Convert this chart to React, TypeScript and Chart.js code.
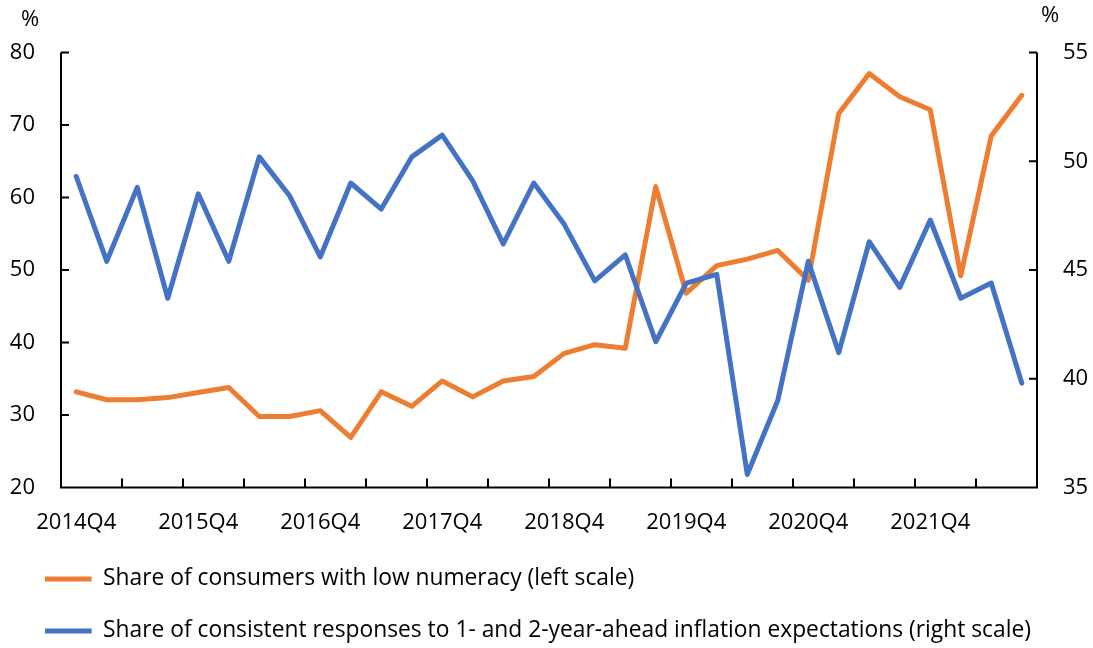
import React, { useEffect, useRef } from "react";
import { Chart, registerables } from "chart.js";

Chart.register(...registerables);

const quarters = [
  "2014Q4",
  "2015Q1", "2015Q2", "2015Q3", "2015Q4",
  "2016Q1", "2016Q2", "2016Q3", "2016Q4",
  "2017Q1", "2017Q2", "2017Q3", "2017Q4",
  "2018Q1", "2018Q2", "2018Q3", "2018Q4",
  "2019Q1", "2019Q2", "2019Q3", "2019Q4",
  "2020Q1", "2020Q2", "2020Q3", "2020Q4",
  "2021Q1", "2021Q2", "2021Q3", "2021Q4",
  "2022Q1", "2022Q2", "2022Q3",
];

const lowNumeracy = [
  33.2, 32.1, 32.1, 32.4, 33.1, 33.8, 29.8, 29.8, 30.6, 26.9, 33.2, 31.2,
  34.7, 32.5, 34.7, 35.3, 38.5, 39.7, 39.2, 61.5, 46.8, 50.6, 51.5, 52.7,
  48.6, 71.6, 77.1, 73.9, 72.1, 49.2, 68.5, 74.1,
];

const consistentResponses = [
  49.3, 45.4, 48.8, 43.7, 48.5, 45.4, 50.2, 48.4, 45.6, 49.0, 47.8, 50.2,
  51.2, 49.1, 46.2, 49.0, 47.1, 44.5, 45.7, 41.7, 44.4, 44.8, 35.6, 39.0,
  45.4, 41.2, 46.3, 44.2, 47.3, 43.7, 44.4, 39.8,
];

const leftTicks = [20, 30, 40, 50, 60, 70, 80];
const rightTicks = [35, 40, 45, 50, 55];

const seriesNames = [
  "Share of consumers with low numeracy (left scale)",
  "Share of consistent responses to 1- and 2-year-ahead inflation expectations (right scale)",
];

const ORANGE = "#ED7D31";
const BLUE = "#4472C4";
const FONT = "'Open Sans', 'Noto Sans', sans-serif";

const axesPlugin = {
  id: "customAxes",
  beforeDatasetsDraw(chart: any) {
    const { ctx, chartArea, scales } = chart;
    const { left, right, top, bottom } = chartArea;
    ctx.save();
    ctx.strokeStyle = "#000";
    ctx.lineWidth = 2;
    ctx.beginPath();
    ctx.moveTo(left, top);
    ctx.lineTo(left, bottom);
    ctx.lineTo(right, bottom);
    ctx.lineTo(right, top);
    leftTicks.forEach((v) => {
      const y = scales.yLeft.getPixelForValue(v);
      ctx.moveTo(left, y);
      ctx.lineTo(left + 8, y);
    });
    rightTicks.forEach((v) => {
      const y = scales.yRight.getPixelForValue(v);
      ctx.moveTo(right, y);
      ctx.lineTo(right - 8, y);
    });
    for (let i = 2; i < quarters.length; i += 2) {
      const x = (scales.x.getPixelForValue(i - 1) + scales.x.getPixelForValue(i)) / 2;
      ctx.moveTo(x, bottom);
      ctx.lineTo(x, bottom - 9);
    }
    ctx.stroke();
    ctx.fillStyle = "#000";
    ctx.font = `22px ${FONT}`;
    ctx.textBaseline = "middle";
    // left axis tick labels
    ctx.textAlign = "right";
    leftTicks.forEach((v) => {
      ctx.fillText(String(v), left - 26, scales.yLeft.getPixelForValue(v));
    });
    ctx.textAlign = "center";
    ctx.fillText("%", left - 31, top - 33);
    ctx.fillText("%", right + 13, top - 37);
    ctx.restore();
  },
};

export default function App() {
  const canvasRef = useRef<HTMLCanvasElement | null>(null);

  useEffect(() => {
    if (!canvasRef.current) return;
    Chart.defaults.font.family = FONT;
    Chart.defaults.color = "#000";
    const chart = new Chart(canvasRef.current, {
      type: "line",
      data: {
        labels: quarters,
        datasets: [
          {
            label: seriesNames[0],
            data: lowNumeracy,
            borderColor: ORANGE,
            backgroundColor: ORANGE,
            borderWidth: 5,
            pointRadius: 0,
            tension: 0,
            borderJoinStyle: "round",
            borderCapStyle: "round",
            yAxisID: "yLeft",
            order: 1,
          },
          {
            label: seriesNames[1],
            data: consistentResponses,
            borderColor: BLUE,
            backgroundColor: BLUE,
            borderWidth: 5,
            pointRadius: 0,
            tension: 0,
            borderJoinStyle: "round",
            borderCapStyle: "round",
            yAxisID: "yRight",
            order: 0,
          },
        ],
      },
      options: {
        animation: false,
        responsive: true,
        maintainAspectRatio: false,
        layout: { padding: { top: 52.5, left: 15.8, right: 0, bottom: -4.4 } },
        plugins: {
          tooltip: { enabled: false },
          legend: {
            display: true,
            position: "bottom",
            align: "start",
            labels: {
              usePointStyle: true,
              pointStyle: "line",
              pointStyleWidth: 46.6,
              padding: 29.2,
              color: "#000",
              font: { size: 22.8, family: FONT },
              sort: (a: any, b: any) => a.datasetIndex - b.datasetIndex,
            },
          },
        },
        scales: {
          x: {
            type: "category",
            offset: true,
            grid: { display: false, drawTicks: false },
            border: { display: false },
            ticks: {
              autoSkip: false,
              maxRotation: 0,
              minRotation: 0,
              padding: 22,
              color: "#000",
              font: { size: 22, family: FONT },
              callback: (_v: any, index: number) => (index % 4 === 0 ? quarters[index] : ""),
            },
            afterFit: (s: any) => {
              s.height = 50.9;
            },
          },
          yLeft: {
            type: "linear",
            position: "left",
            min: 20,
            max: 80,
            grid: { display: false, drawTicks: false },
            border: { display: false },
            ticks: {
              display: false,
              stepSize: 10,
            },
            afterFit: (s: any) => {
              s.width = 45.2;
            },
          },
          yRight: {
            type: "linear",
            position: "right",
            min: 35,
            max: 55,
            grid: { display: false, drawTicks: false },
            border: { display: false },
            ticks: {
              stepSize: 5,
              padding: 26,
              color: "#000",
              font: { size: 22, family: FONT },
            },
            afterFit: (s: any) => {
              s.width = 56;
            },
          },
        },
      },
      plugins: [axesPlugin],
    });
    return () => chart.destroy();
  }, []);

  return (
    <div style={{ position: "absolute", left: 0, top: 0, width: 1093, height: 648, background: "#fff" }}>
      <canvas ref={canvasRef} />
    </div>
  );
}
